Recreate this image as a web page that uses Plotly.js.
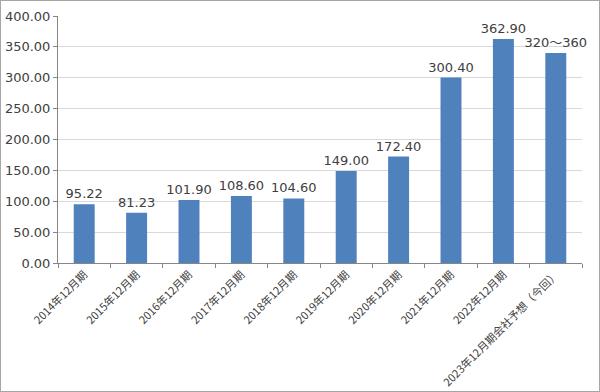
<!DOCTYPE html>
<html><head><meta charset="utf-8">
<script src="https://cdn.plot.ly/plotly-3.0.1.min.js"></script>
<style>html,body{margin:0;padding:0;background:#fff}#wrap{width:598px;height:390px;border:1px solid #a6a6a6;}</style>
</head><body><div id="wrap"><div id="chart"></div></div>
<script>
var categories = ["2014年12月期","2015年12月期","2016年12月期","2017年12月期","2018年12月期","2019年12月期","2020年12月期","2021年12月期","2022年12月期","2023年12月期会社予想（今回）"];
var values = [95.22, 81.23, 101.90, 108.60, 104.60, 149.00, 172.40, 300.40, 362.90, 340];
var labels = ["95.22","81.23","101.90","108.60","104.60","149.00","172.40","300.40","362.90","320～360"];
var yTicks = [0,50,100,150,200,250,300,350,400];
var numFont = '"DejaVu Sans", "Noto Sans CJK JP", sans-serif';
var jpFont = '"Noto Sans CJK JP", sans-serif';
Plotly.newPlot('chart', [{
  type:'bar', x:categories, y:values, text:labels, textposition:'outside', constraintext:'none',
  textfont:{size:13,color:'#404040',family:numFont}, cliponaxis:false,
  marker:{color:'#4f81bd'}, hoverinfo:'none'
}], {
  width:598, height:390,
  margin:{l:57,r:17,t:15,b:128},
  bargap:0.6,
  paper_bgcolor:'#fff', plot_bgcolor:'#fff',
  font:{family:numFont,color:'#404040'},
  xaxis:{tickangle:-45, tickfont:{size:11,color:'#404040',family:jpFont}, showline:true, linecolor:'#868686',
    ticks:'outside', tickson:'boundaries', ticklen:4, tickcolor:'#868686', showgrid:false},
  yaxis:{range:[0,400], tickvals:yTicks, tickformat:'.2f', tickfont:{size:13,color:'#404040',family:numFont},
    showline:true, linecolor:'#868686', ticks:'outside', ticklen:4, tickcolor:'#868686',
    gridcolor:'#d9d9d9', zeroline:false},
  showlegend:false
}, {staticPlot:true});
</script></body></html>
